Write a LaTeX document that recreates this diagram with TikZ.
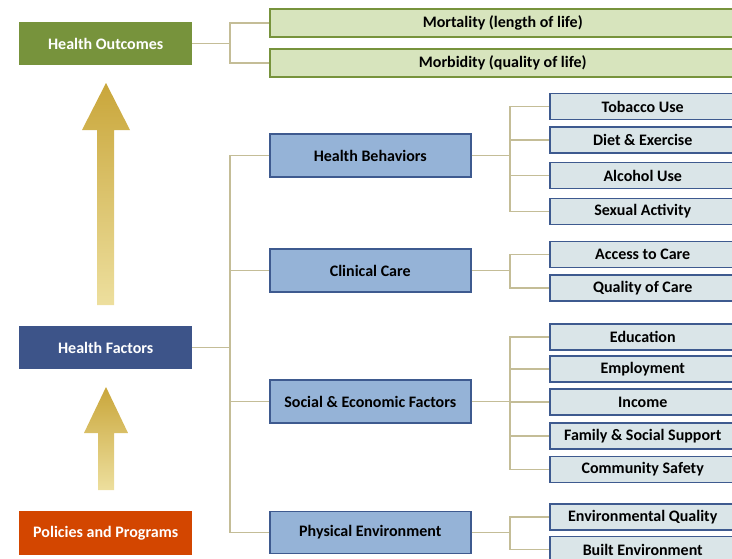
\documentclass[tikz,border=0pt]{standalone}
\usepackage{fontspec}
\setmainfont{Carlito}
\definecolor{outgreen}{HTML}{77933C}
\definecolor{outlight}{HTML}{D7E4BD}
\definecolor{factblue}{HTML}{3D5489}
\definecolor{boxblue}{HTML}{3E5A8F}
\definecolor{midblue}{HTML}{95B3D7}
\definecolor{leafgray}{HTML}{DAE5E8}
\definecolor{policyorange}{HTML}{D34600}
\definecolor{linktan}{HTML}{C4BD97}
\definecolor{arrowgold}{HTML}{C9A63A}
\definecolor{arrowmid}{HTML}{DCC466}
\definecolor{arrowpale}{HTML}{EDDF9E}
\tikzset{
  mainbox/.style={minimum width=173pt, minimum height=43pt, text=white},
  outbox/.style={draw=outgreen, fill=outlight, line width=1.5pt, minimum width=466pt, minimum height=28pt},
  factbox/.style={draw=boxblue, fill=midblue, line width=1.5pt, minimum width=201pt, minimum height=43pt},
  leafbox/.style={draw=boxblue, fill=leafgray, line width=1.5pt, minimum width=186pt, minimum height=26pt},
  link/.style={draw=linktan, line width=1.5pt}
}
\begin{document}
\begin{tikzpicture}[x=1pt,y=-1pt,
  every node/.style={font=\fontsize{16}{18}\selectfont\bfseries, inner sep=0pt, anchor=west}]
  \useasboundingbox (0,0) rectangle (732,558);
  \clip (0,0) rectangle (732,558);
  % arrows
  \shade[top color=arrowgold, middle color=arrowmid, bottom color=arrowpale]
    (97,305) -- (97,130) -- (82,130) -- (106,83) -- (130,130) -- (114,130) -- (114,305) -- cycle;
  \shade[top color=arrowgold, middle color=arrowmid, bottom color=arrowpale]
    (98,490) -- (98,433) -- (84,433) -- (106,387) -- (128,433) -- (114,433) -- (114,490) -- cycle;
  % left column
  \node[mainbox, fill=outgreen] (outcomes) at (19,43.5) {Health Outcomes};
  \node[mainbox, fill=factblue] (factors) at (19,347.5) {Health Factors};
  \node[mainbox, fill=policyorange, minimum height=44pt] (policies) at (19,533) {Policies and Programs};
  % outcomes
  \node[outbox] (mortality) at (269,23) {Mortality (length of life)};
  \node[outbox] (morbidity) at (269,63) {Morbidity (quality of life)};
  % factors
  \node[factbox] (behaviors) at (269,155.5) {Health Behaviors};
  \node[factbox] (clinical) at (269,270.5) {Clinical Care};
  \node[factbox] (socioeco) at (269,401.5) {Social \& Economic Factors};
  \node[factbox, minimum height=42pt] (physical) at (269,532.5) {Physical Environment};
  % leaves
  \node[leafbox] (tobacco) at (549,106.5) {Tobacco Use};
  \node[leafbox] (diet) at (549,140) {Diet \& Exercise};
  \node[leafbox] (alcohol) at (549,175.5) {Alcohol Use};
  \node[leafbox] (sexual) at (549,211.5) {Sexual Activity};
  \node[leafbox] (access) at (549,254.5) {Access to Care};
  \node[leafbox] (quality) at (549,288) {Quality of Care};
  \node[leafbox] (education) at (549,337) {Education};
  \node[leafbox] (employment) at (549,369) {Employment};
  \node[leafbox] (income) at (549,402) {Income};
  \node[leafbox] (family) at (549,436) {Family \& Social Support};
  \node[leafbox] (safety) at (549,469.5) {Community Safety};
  \node[leafbox] (envquality) at (549,517) {Environmental Quality};
  \node[leafbox] (built) at (549,549.5) {Built Environment};
  % links
  \coordinate (outjoin) at (230,43.5);
  \draw[link] (outcomes.east) -- (outjoin);
  \foreach \n in {mortality,morbidity} \draw[link] (outjoin) |- (\n.west);
  \coordinate (factjoin) at (230,347.5);
  \draw[link] (factors.east) -- (factjoin);
  \foreach \n in {behaviors,clinical,socioeco,physical} \draw[link] (factjoin) |- (\n.west);
  \coordinate (behjoin) at (510,155.5);
  \draw[link] (behaviors.east) -- (behjoin);
  \foreach \n in {tobacco,diet,alcohol,sexual} \draw[link] (behjoin) |- (\n.west);
  \coordinate (clinjoin) at (510,270.5);
  \draw[link] (clinical.east) -- (clinjoin);
  \foreach \n in {access,quality} \draw[link] (clinjoin) |- (\n.west);
  \coordinate (socjoin) at (510,401.5);
  \draw[link] (socioeco.east) -- (socjoin);
  \foreach \n in {education,employment,income,family,safety} \draw[link] (socjoin) |- (\n.west);
  \coordinate (physjoin) at (510,532.5);
  \draw[link] (physical.east) -- (physjoin);
  \foreach \n in {envquality,built} \draw[link] (physjoin) |- (\n.west);
\end{tikzpicture}
\end{document}
